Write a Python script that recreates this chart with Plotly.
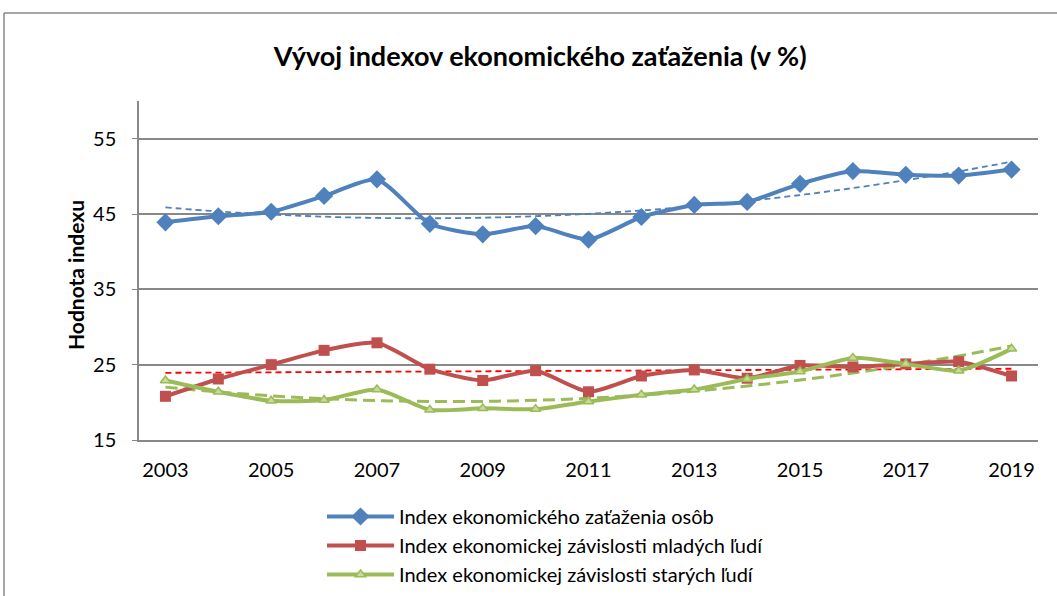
import numpy as np
import plotly.graph_objects as go

years = list(range(2003, 2020))
celkovy = [43.9, 44.7, 45.3, 47.4, 49.6, 43.7, 42.3, 43.4, 41.6, 44.6, 46.2, 46.6, 49.0, 50.7, 50.2, 50.1, 50.9]
mladi = [20.8, 23.1, 25.0, 26.9, 27.9, 24.4, 22.9, 24.2, 21.4, 23.5, 24.3, 23.2, 24.9, 24.7, 25.1, 25.4, 23.5]
stari = [22.9, 21.4, 20.2, 20.3, 21.7, 19.0, 19.2, 19.1, 20.1, 21.0, 21.7, 23.1, 24.1, 25.9, 25.1, 24.2, 27.1]

names = ["Index ekonomického zaťaženia osôb",
         "Index ekonomickej závislosti mladých ľudí",
         "Index ekonomickej závislosti starých ľudí"]
tick_years = list(range(2003, 2020, 2))
y_ticks = [15, 25, 35, 45, 55]

BLUE, RED, GREEN = "#4F81BD", "#C0504D", "#9BBB59"
FONT = "Lato, Open Sans, sans-serif"

fig = go.Figure()
x = np.array(years, dtype=float)

def trend(vals, deg):
    c = np.polyfit(x - 2003, np.array(vals), deg)
    return np.polyval(c, x - 2003)

# trendlines
fig.add_trace(go.Scatter(x=years, y=trend(celkovy, 2), mode="lines", line=dict(color=BLUE, width=1.8, dash="6px,4px", shape="spline"), showlegend=False, hoverinfo="skip"))
fig.add_trace(go.Scatter(x=years, y=trend(mladi, 1), mode="lines", line=dict(color="#FF0000", width=1.8, dash="6px,4px"), showlegend=False, hoverinfo="skip"))
fig.add_trace(go.Scatter(x=years, y=trend(stari, 2), mode="lines", line=dict(color=GREEN, width=3, dash="12px,6px", shape="spline"), showlegend=False, hoverinfo="skip"))

fig.add_trace(go.Scatter(x=years, y=celkovy, name=names[0], mode="lines+markers",
                         line=dict(color=BLUE, width=4, shape="spline", smoothing=0.6),
                         marker=dict(symbol="diamond", size=14, color=BLUE)))
fig.add_trace(go.Scatter(x=years, y=mladi, name=names[1], mode="lines+markers",
                         line=dict(color=RED, width=4, shape="spline", smoothing=0.6),
                         marker=dict(symbol="square", size=11, color=RED)))
fig.add_trace(go.Scatter(x=years, y=stari, name=names[2], mode="lines+markers",
                         line=dict(color=GREEN, width=4, shape="spline", smoothing=0.6),
                         marker=dict(symbol="triangle-up", size=9, color="#C6DA9A", line=dict(color=GREEN, width=1.5))))

L, R, T, B = 139, 1038, 101, 440
W, H = 1057, 596
pw, ph = R - L, B - T

fig.update_layout(
    width=W, height=H,
    margin=dict(l=L, r=W - R, t=T, b=H - B, autoexpand=False),
    paper_bgcolor="white", plot_bgcolor="white",
    font=dict(family=FONT, size=20, color="#000"),
    title=dict(text="<b>Vývoj indexov ekonomického zaťaženia (v %)</b>", x=0.511, xanchor="center",
               y=1 - 57 / H, yanchor="middle", font=dict(size=27)),
    showlegend=True,
    legend=dict(x=(322 - L) / pw, y=(B - 497) / ph, xanchor="left", yanchor="top",
                font=dict(size=20), tracegroupgap=0, itemwidth=67, bgcolor="rgba(0,0,0,0)"),
    xaxis=dict(range=[2002.5, 2019.5], tickvals=tick_years, ticktext=[str(t) for t in tick_years],
               showgrid=False, showline=True, linecolor="#888", linewidth=1.5,
               ticks="", ticklabelstandoff=11, zeroline=False, tickfont=dict(size=20)),
    yaxis=dict(range=[15, 60], tickvals=y_ticks, showgrid=True, gridcolor="#888", gridwidth=1.5,
               showline=True, linecolor="#888", linewidth=1.5, ticks="outside", ticklen=5,
               tickcolor="#888", zeroline=False, ticklabelstandoff=12, tickfont=dict(size=20)),
)

# y-axis title placed like the original
fig.add_annotation(text="<b>Hodnota indexu</b>", xref="paper", yref="paper",
                   x=(75 - L) / pw, y=(B - 275) / ph, xanchor="center", yanchor="middle",
                   textangle=-90, showarrow=False, font=dict(size=21))

# outer chart frame (left and top edges visible)
fig.add_shape(type="line", xref="paper", yref="paper", x0=(4 - L) / pw, x1=(W + 5 - L) / pw,
              y0=1 + (T - 13) / ph, y1=1 + (T - 13) / ph, line=dict(color="#888", width=1.5))
fig.add_shape(type="line", xref="paper", yref="paper", x0=(4 - L) / pw, x1=(4 - L) / pw,
              y0=1 + (T - 13) / ph, y1=-(H + 5 - B) / ph, line=dict(color="#888", width=1.5))

fig.write_html("out.html", config={"displayModeBar": False},
               post_script="document.body.style.margin='0';document.body.style.overflow='hidden';")
